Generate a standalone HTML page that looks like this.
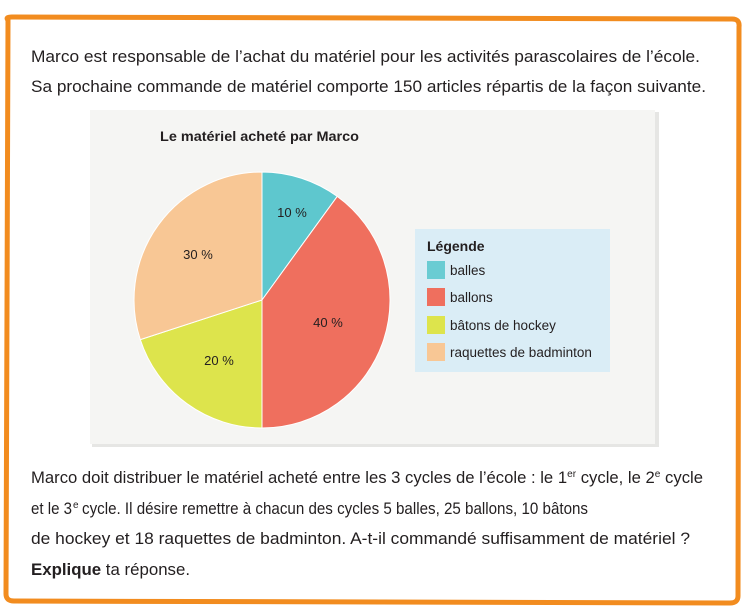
<!DOCTYPE html>
<html><head><meta charset="utf-8"><style>
html,body{margin:0;padding:0;background:#fff;}
svg{display:block;font-family:"Liberation Sans",sans-serif;}
</style></head><body>
<svg width="745" height="612" viewBox="0 0 745 612" xmlns="http://www.w3.org/2000/svg">
<rect x="0" y="0" width="745" height="612" fill="#fff"/>
<path d="M8 20 Q5 17 12 17 L732 19 Q740 19 739 27 L738 596 Q738 603 730 603 L14 601 Q6 601 6 594 Z" fill="#fff" stroke="#f28c1f" stroke-width="5"/>
<g fill="#231f20" font-size="16.5">
<text x="31" y="62" textLength="669" lengthAdjust="spacingAndGlyphs">Marco est responsable de l’achat du matériel pour les activités parascolaires de l’école.</text>
<text x="31" y="92" textLength="675" lengthAdjust="spacingAndGlyphs">Sa prochaine commande de matériel comporte 150 articles répartis de la façon suivante.</text>
<text x="31" y="483" textLength="672" lengthAdjust="spacingAndGlyphs">Marco doit distribuer le matériel acheté entre les 3 cycles de l’école : le 1<tspan font-size="10" dy="-6">er</tspan><tspan dy="6"> cycle, le 2</tspan><tspan font-size="10" dy="-6">e</tspan><tspan dy="6"> cycle</tspan></text>
<text x="31" y="514" font-size="16.5" textLength="41" lengthAdjust="spacingAndGlyphs">et le 3</text>
<text x="73" y="508" font-size="10">e</text>
<text x="82" y="514" font-size="16.5" textLength="506" lengthAdjust="spacingAndGlyphs">cycle. Il désire remettre à chacun des cycles 5 balles, 25 ballons, 10 bâtons</text>
<text x="31" y="544" textLength="659" lengthAdjust="spacingAndGlyphs">de hockey et 18 raquettes de badminton. A-t-il commandé suffisamment de matériel ?</text>
<text x="31" y="575" textLength="159" lengthAdjust="spacingAndGlyphs"><tspan font-weight="bold">Explique</tspan> ta réponse.</text>
</g>
<rect x="92" y="112" width="567" height="335" fill="#e6e6e4"/>
<rect x="90" y="110" width="565" height="334" fill="#f5f5f3"/>
<text x="160" y="141" font-size="14" font-weight="bold" fill="#231f20" textLength="199" lengthAdjust="spacingAndGlyphs">Le matériel acheté par Marco</text>
<g stroke="#fff" stroke-width="1">
<path d="M262 300 L262 172 A128 128 0 0 1 337.2 196.4 Z" fill="#5ec7ce"/>
<path d="M262 300 L337.2 196.4 A128 128 0 0 1 262 428 Z" fill="#ef6f5e"/>
<path d="M262 300 L262 428 A128 128 0 0 1 140.3 339.6 Z" fill="#dde44c"/>
<path d="M262 300 L140.3 339.6 A128 128 0 0 1 262 172 Z" fill="#f8c795"/>
</g>
<g font-size="13" fill="#231f20" text-anchor="middle">
<text x="292" y="217">10 %</text>
<text x="328" y="327">40 %</text>
<text x="219" y="365">20 %</text>
<text x="198" y="259">30 %</text>
</g>
<rect x="415" y="229" width="195" height="143" fill="#daedf6"/>
<text x="427" y="251" font-size="14" font-weight="bold" fill="#231f20">Légende</text>
<rect x="427" y="261" width="18" height="18" fill="#6accd3"/>
<rect x="427" y="288" width="18" height="18" fill="#ef6f5e"/>
<rect x="427" y="316" width="18" height="18" fill="#dde44c"/>
<rect x="427" y="343" width="18" height="18" fill="#f8c795"/>
<g font-size="13.5" fill="#231f20">
<text x="450" y="275">balles</text>
<text x="450" y="302">ballons</text>
<text x="450" y="330">bâtons de hockey</text>
<text x="450" y="357">raquettes de badminton</text>
</g>
</svg>
</body></html>
